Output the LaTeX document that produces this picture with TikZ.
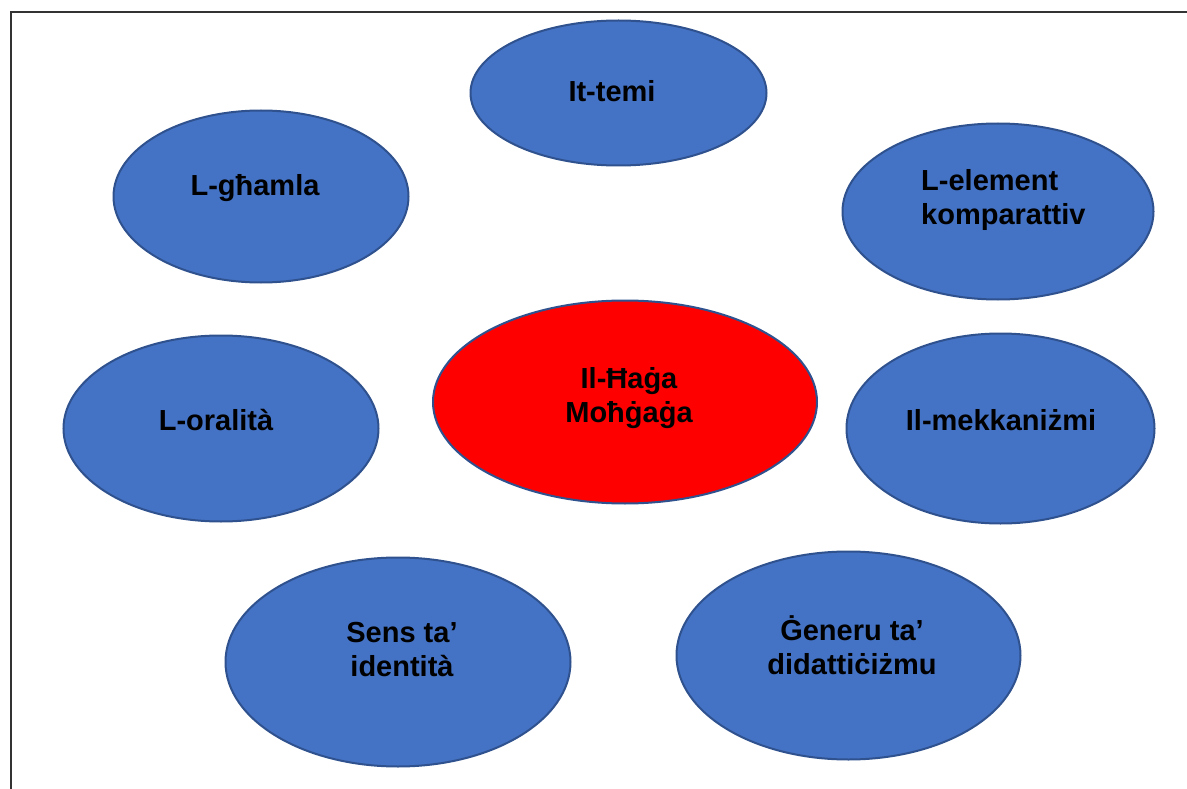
\documentclass[tikz,border=0pt]{standalone}
\usepackage{fontspec}
\setmainfont{Liberation Sans}
\usetikzlibrary{shapes.geometric}
\definecolor{blobblue}{HTML}{4472C4}
\definecolor{blobedge}{HTML}{2F528F}
\definecolor{blobred}{HTML}{FF0000}
\begin{document}
\begin{tikzpicture}[x=1pt,y=-1pt,
  blob/.style={ellipse, draw=blobedge, fill=blobblue, line width=2pt, inner sep=0pt},
  redblob/.style={blob, fill=blobred},
  lbl/.style={font=\fontsize{29}{34}\selectfont\bfseries, text=black, inner sep=0pt, align=center}]
\useasboundingbox (0,0) rectangle (1187,789);
\fill[white] (0,0) rectangle (1187,789);
\draw[line width=2pt, black!80] (11,789) -- (11,12.5) -- (1187,12.5);
% ellipses
\node[blob, minimum width=296pt, minimum height=145pt] (temi) at (618.5,93) {};
\node[blob, minimum width=295pt, minimum height=172pt] (ghamla) at (261,196.5) {};
\node[blob, minimum width=311pt, minimum height=176pt] (element) at (998,211.5) {};
\node[redblob, minimum width=384pt, minimum height=203pt] (haga) at (625,402) {};
\node[blob, minimum width=315pt, minimum height=186pt] (oralita) at (221,428.5) {};
\node[blob, minimum width=308pt, minimum height=190pt] (mekk) at (1000.5,428.5) {};
\node[blob, minimum width=345pt, minimum height=209pt] (sens) at (398,662) {};
\node[blob, minimum width=344pt, minimum height=208pt] (generu) at (848.5,655.5) {};
% labels
\node[lbl, anchor=base] (ttemi) at (612,102) {It-temi};
\node[lbl, anchor=base] (tghamla) at (255,196) {L-għamla};
\node[lbl, anchor=west, align=left] (telement) at (921,200) {L-element\\komparattiv};
\node[lbl] (thaga) at (629,398) {Il-Ħaġa\\Moħġaġa};
\node[lbl, anchor=base] (toralita) at (216,430) {L-oralità};
\node[lbl, anchor=base] (tmekk) at (1001,430) {Il-mekkaniżmi};
\node[lbl] (tsens) at (402,650) {Sens ta’\\identità};
\node[lbl] (tgeneru) at (852,645) {Ġeneru ta’\\didattiċiżmu};
\end{tikzpicture}
\end{document}
